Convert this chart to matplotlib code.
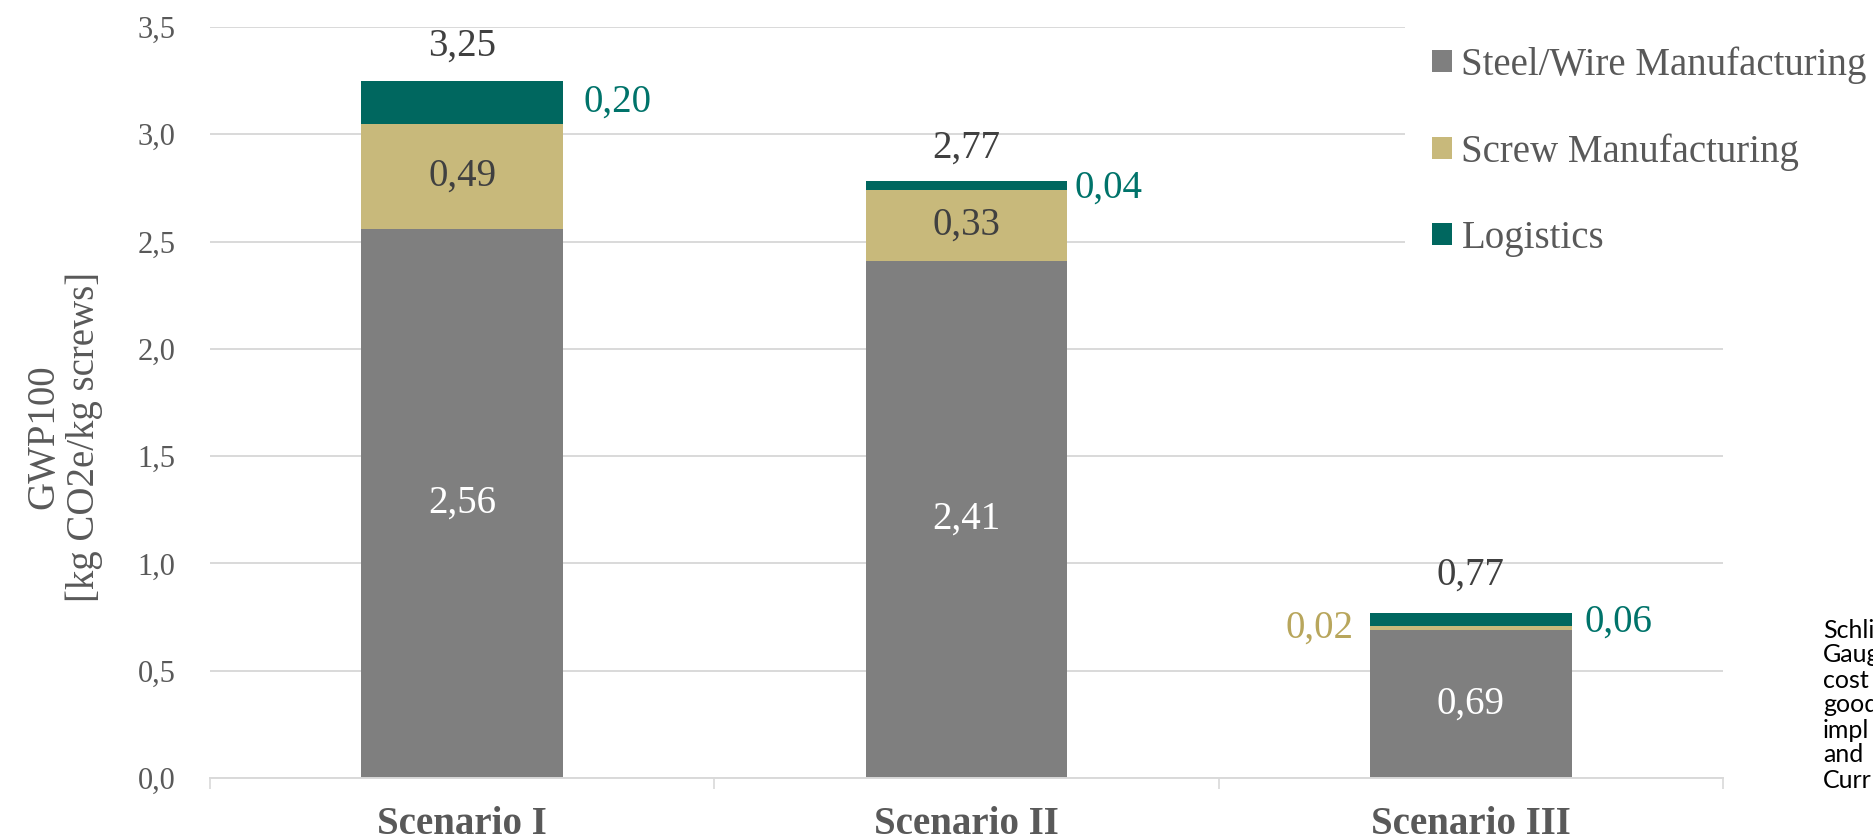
import matplotlib
matplotlib.use("Agg")
import matplotlib.pyplot as plt
import numpy as np

# ---- data ----
scenarios = ["Scenario I", "Scenario II", "Scenario III"]
series_names = ["Steel/Wire Manufacturing", "Screw Manufacturing", "Logistics"]
steel = [2.56, 2.41, 0.69]
screw = [0.49, 0.33, 0.02]
logistics = [0.20, 0.04, 0.06]
totals = [3.25, 2.77, 0.77]
y_ticks = [0.0, 0.5, 1.0, 1.5, 2.0, 2.5, 3.0, 3.5]
side_text = ["Schli", "Gaug", "cost", "good", "impl", "and", "Curr"]

# ---- style ----
C_STEEL = "#7F7F7F"
C_SCREW = "#C8B97B"
C_LOG = "#00675F"
C_GRID = "#D9D9D9"
C_TXT = "#595959"
C_DARK = "#404040"
C_TEAL_TXT = "#00736A"
C_TAN_TXT = "#B8A65C"
SERIF = ["Liberation Serif", "DejaVu Serif"]

plt.rcParams["font.family"] = SERIF

fig = plt.figure(figsize=(18.73, 8.40), dpi=100)
ax = fig.add_axes([210 / 1873, 62 / 840, 1513 / 1873, 751 / 840])

x = np.arange(len(scenarios))
w = 0.4
steel_a = np.array(steel)
screw_a = np.array(screw)
log_a = np.array(logistics)

b1 = ax.bar(x, steel_a, w, color=C_STEEL, label=series_names[0], zorder=3)
b2 = ax.bar(x, screw_a, w, bottom=steel_a, color=C_SCREW, label=series_names[1], zorder=3)
b3 = ax.bar(x, log_a, w, bottom=steel_a + screw_a, color=C_LOG, label=series_names[2], zorder=3)

ax.set_xlim(-0.5, 2.5)
ax.set_ylim(0, 3.5)
ax.set_yticks(y_ticks)
ax.set_yticklabels([f"{v:.1f}".replace(".", ",") for v in y_ticks])
ax.set_xticks(x)
ax.set_xticklabels(scenarios, fontweight="bold")
ax.set_xticks([-0.5, 0.5, 1.5, 2.5], minor=True)

ax.tick_params(axis="y", length=0, pad=25, labelsize=22, labelcolor=C_TXT)
ax.tick_params(axis="x", which="major", length=0, pad=20, labelsize=28, labelcolor=C_TXT)
ax.tick_params(axis="x", which="minor", length=8, width=1.2, color=C_GRID, direction="out")

for s in ["top", "right", "left"]:
    ax.spines[s].set_visible(False)
ax.spines["bottom"].set_color(C_GRID)
ax.spines["bottom"].set_linewidth(1.4)
ax.spines["bottom"].set_zorder(4)

ax.grid(axis="y", color=C_GRID, linewidth=1.4, zorder=0)
ax.set_axisbelow(True)

ax.set_ylabel("GWP100\n[kg CO2e/kg screws]", fontsize=28, color=C_TXT, linespacing=1.1)
ax.yaxis.set_label_coords(-0.071, 0.454)

fmt = lambda v: f"{v:.2f}".replace(".", ",")
FS = 28

# labels inside bars
for i in range(len(x)):
    ax.annotate(fmt(steel[i]), (x[i], steel_a[i] / 2), ha="center", va="center",
                fontsize=FS, color="white", zorder=5)

for i in [0, 1]:
    ax.annotate(fmt(screw[i]), (x[i], steel_a[i] + screw_a[i] / 2), ha="center", va="center",
                fontsize=FS, color=C_DARK, zorder=5)

# Scenario III screw label to the left
ax.annotate(fmt(screw[2]), (x[2] - w / 2, steel_a[2] + screw_a[2] / 2), xytext=(-12, 0),
            textcoords="offset points", ha="right", va="center", fontsize=FS, color=C_TAN_TXT)

# logistics labels to the right
log_gaps = [15, 5, 9]
log_dy = [0, -2, -2]
for i in range(len(x)):
    ax.annotate(fmt(logistics[i]), (x[i] + w / 2, steel_a[i] + screw_a[i] + log_a[i] / 2),
                xytext=(log_gaps[i], log_dy[i]), textcoords="offset points",
                ha="left", va="center", fontsize=FS, color=C_TEAL_TXT)

# totals above
tot_dy = [25, 24, 27]
for i in range(len(x)):
    top = steel_a[i] + screw_a[i] + log_a[i]
    ax.annotate(fmt(totals[i]), (x[i], top), xytext=(0, tot_dy[i]), textcoords="offset points",
                ha="center", va="center", fontsize=FS, color=C_DARK)

leg = ax.legend(handles=[b1, b2, b3], loc="upper left",
                bbox_to_anchor=(1405 / 1873, 1 - 19 / 840), bbox_transform=fig.transFigure,
                fontsize=28, frameon=True, facecolor="white", edgecolor="none", framealpha=1,
                handlelength=0.5, handleheight=0.5, handletextpad=0.25,
                labelspacing=1.27, borderpad=0.7, borderaxespad=0, fancybox=False)
for t in leg.get_texts():
    t.set_color(C_TXT)
leg.set_zorder(6)

for k, s in enumerate(side_text):
    fig.text(1823 / 1873, 1 - (630 + 25 * k) / 840, s, fontsize=18, color="black",
             va="center", ha="left", family=["Lato", "DejaVu Sans"], linespacing=1.0)

fig.savefig("out.png", dpi=100)
